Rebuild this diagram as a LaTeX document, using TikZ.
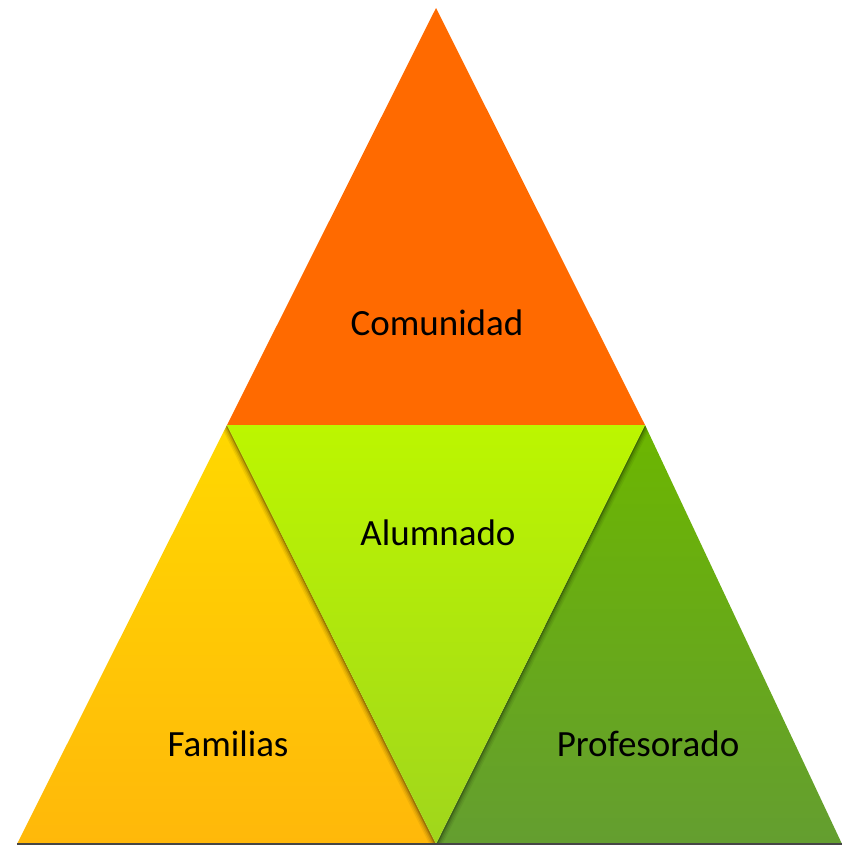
\documentclass[tikz,border=0pt]{standalone}
\usepackage{fontspec}
\setmainfont{Carlito}
\begin{document}
\begin{tikzpicture}[x=1pt,y=-1pt,
  lbl/.style={font=\fontsize{37}{44}\selectfont, text=black, inner sep=0pt},
  shadowline/.style={black, line join=miter}]
\useasboundingbox (0,0) rectangle (842,846);
\coordinate (A) at (436,8);
\coordinate (L) at (227,425);
\coordinate (R) at (645,425);
\coordinate (BL) at (17,844);
\coordinate (BM) at (436,844);
\coordinate (BR) at (842,844);
% top triangle
\fill[color={rgb,255:red,255;green,106;blue,0}] (A) -- (R) -- (L) -- cycle;
% left triangle
\shade[top color={rgb,255:red,255;green,216;blue,0}, bottom color={rgb,255:red,255;green,184;blue,10}] (L) -- (BM) -- (BL) -- cycle;
% right triangle
\shade[top color={rgb,255:red,108;green,182;blue,0}, bottom color={rgb,255:red,100;green,158;blue,48}] (R) -- (BR) -- (BM) -- cycle;
% shadow of the middle triangle, kept inside the side triangles
\begin{scope}
  \clip (L) -- (BM) -- (BL) -- cycle;
  \foreach \w/\o in {12/0.06,9/0.08,6/0.12,3/0.2}{
    \draw[shadowline, line width=\w, opacity=\o] (L) -- (BM);
  }
\end{scope}
\begin{scope}
  \clip (R) -- (BR) -- (BM) -- cycle;
  \foreach \w/\o in {12/0.06,9/0.08,6/0.12,3/0.2}{
    \draw[shadowline, line width=\w, opacity=\o] (R) -- (BM);
  }
\end{scope}
% middle inverted triangle
\shade[top color={rgb,255:red,188;green,246;blue,0}, bottom color={rgb,255:red,160;green,214;blue,28}] (L) -- (R) -- (BM) -- cycle;
% base line
\draw[line width=1.5, color={rgb,255:red,70;green,70;blue,70}] (BL) -- (BR);
\node[lbl] (com) at (437,323) {Comunidad};
\node[lbl] (alu) at (438,533) {Alumnado};
\node[lbl] (fam) at (228,744) {Familias};
\node[lbl] (pro) at (648,744) {Profesorado};
\end{tikzpicture}
\end{document}
